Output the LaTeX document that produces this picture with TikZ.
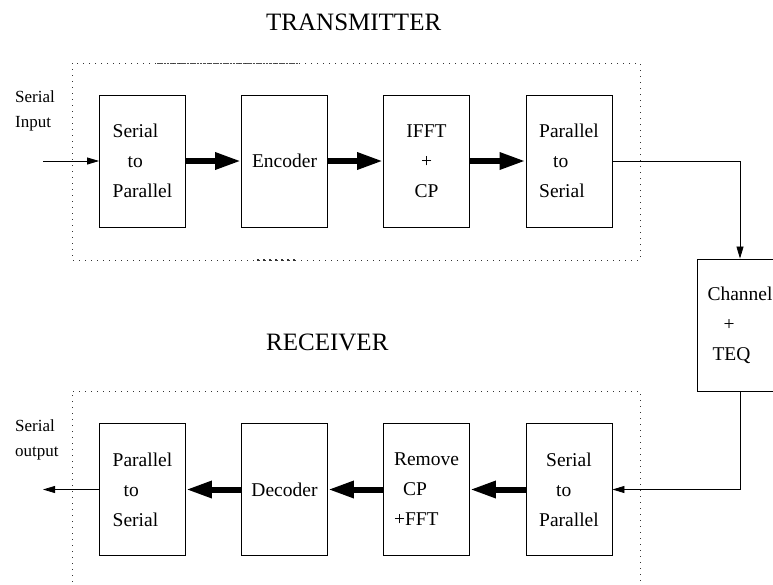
\documentclass[tikz,border=0pt]{standalone}
\usepackage{fontspec}
\setmainfont{Liberation Serif}
\usetikzlibrary{arrows.meta}
\begin{document}
\begin{tikzpicture}[x=1pt,y=-1pt,
  blk/.style={draw, line width=0.9pt, minimum width=86pt, minimum height=132pt, inner sep=0pt,
    font=\fontsize{19.5}{30}\selectfont, align=left},
  blkc/.style={blk, align=center},
  bigarr/.style={line width=6pt, -{Triangle[length=26pt,width=16pt]}},
  thinarr/.style={line width=0.8pt, -{Triangle[length=12pt,width=7pt]}},
  dotln/.style={line width=0.9pt, dash pattern=on 0.9pt off 5.1pt, black!80},
  lbl/.style={font=\fontsize{17}{25}\selectfont, align=left, inner sep=0pt},
  ttl/.style={font=\fontsize{25}{30}\selectfont, inner sep=0pt}]
\useasboundingbox (0,0) rectangle (773,584);

% titles
\node[ttl, anchor=west] (tt) at (266,22) {TRANSMITTER};
\node[ttl, anchor=west] (rt) at (266,342) {RECEIVER};

% dotted frames
\draw[dotln] (72,63) rectangle (640,260);
\draw[dotln] (72,600) -- (72,391) -- (640,391) -- (640,600);
\draw[line width=0.6pt, dash pattern=on 2.5pt off 0.8pt, black!70] (157,63) -- (298,63);
\draw[line width=1.2pt, dash pattern=on 1.5pt off 4.5pt, black!80] (257,260) -- (298,260);

% transmitter blocks
\node[blk] (tb1) at (142.5,161) {Serial\\\hspace*{15pt}to\\Parallel};
\node[blk] (tb2) at (284.5,161) {Encoder};
\node[blkc] (tb3) at (426.5,161) {IFFT\\+\\CP};
\node[blk] (tb4) at (569,161) {Parallel\\\hspace*{14pt}to\\Serial};

% channel
\node[blk] (ch) at (740,325) {Channel\\\hspace*{16pt}+\\\hspace*{5pt}TEQ};

% receiver blocks
\node[blk] (rb1) at (142.5,489.5) {Parallel\\\hspace*{11pt}to\\Serial};
\node[blk] (rb2) at (284.5,489.5) {Decoder};
\node[blk] (rb3) at (426.5,489.5) {Remove\\\hspace*{9pt}CP\\+FFT};
\node[blk] (rb4) at (569,489.5) {\hspace*{7pt}Serial\\\hspace*{17pt}to\\Parallel};

% side labels
\node[lbl, anchor=west] (sil) at (15,111) {Serial\\Input};
\node[lbl, anchor=west] (sol) at (15,440) {Serial\\output};
\coordinate (sin) at (43,161);
\coordinate (sout) at (43,489.5);

% connectors
\draw[thinarr] (sin) -- (tb1.west);
\draw[bigarr] (tb1.east) -- (tb2.west);
\draw[bigarr] (tb2.east) -- (tb3.west);
\draw[bigarr] (tb3.east) -- (tb4.west);
\draw[thinarr] (tb4.east) -| (ch.north);
\draw[thinarr] (ch.south) |- (rb4.east);
\draw[bigarr] (rb4.west) -- (rb3.east);
\draw[bigarr] (rb3.west) -- (rb2.east);
\draw[bigarr] (rb2.west) -- (rb1.east);
\draw[thinarr] (rb1.west) -- (sout);
\end{tikzpicture}
\end{document}
